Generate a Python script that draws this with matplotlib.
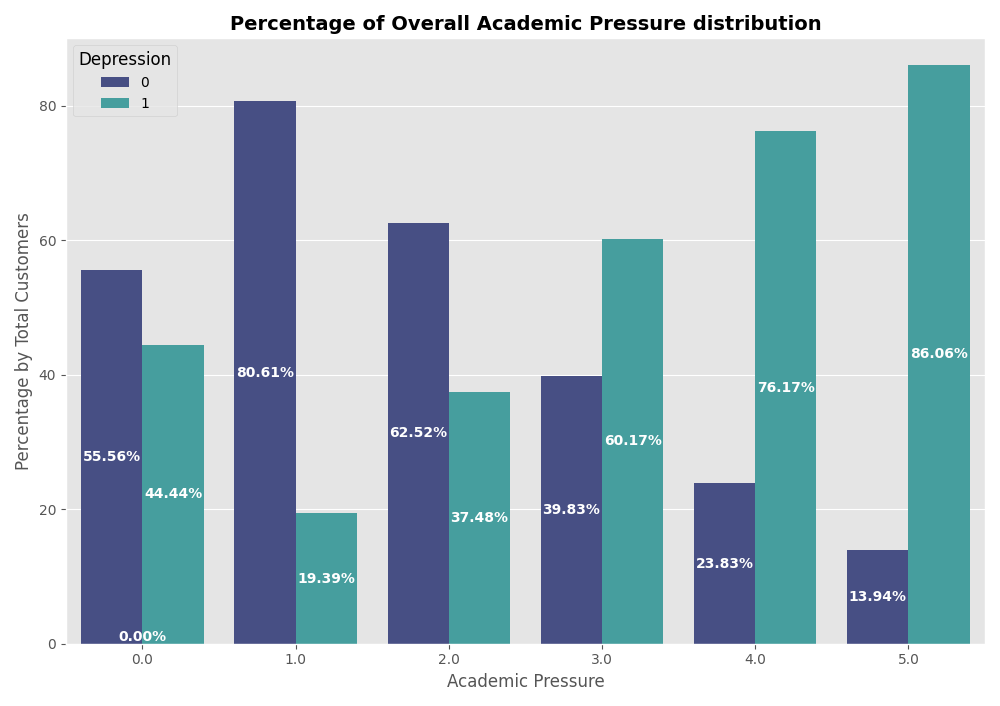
import matplotlib
matplotlib.use("Agg")
import matplotlib.pyplot as plt
import numpy as np

plt.style.use("ggplot")

pressure = ["0.0", "1.0", "2.0", "3.0", "4.0", "5.0"]
dep0 = [55.56, 80.61, 62.52, 39.83, 23.83, 13.94]
dep1 = [44.44, 19.39, 37.48, 60.17, 76.17, 86.06]
colors = ["#474f84", "#469e9e"]

fig, ax = plt.subplots(figsize=(10, 7.06), dpi=100)
x = np.arange(len(pressure))
w = 0.4
b0 = ax.bar(x - w / 2, dep0, w, color=colors[0], label="0")
b1 = ax.bar(x + w / 2, dep1, w, color=colors[1], label="1")

for bars in (b0, b1):
    for r in bars:
        h = r.get_height()
        ax.text(r.get_x() + r.get_width() / 2, h / 2, f"{h:.2f}%",
                ha="center", va="center", color="white", fontweight="bold", fontsize=10)
ax.text(0, 0, "0.00%", ha="center", va="bottom", color="white", fontweight="bold", fontsize=10)

ax.set_xticks(x)
ax.set_xticklabels(pressure)
ax.set_xlim(-0.5, 5.5)
ax.set_ylim(0, 90)
ax.set_yticks([0, 20, 40, 60, 80])
ax.set_xlabel("Academic Pressure", fontsize=12)
ax.set_ylabel("Percentage by Total Customers", fontsize=12)
ax.set_title("Percentage of Overall Academic Pressure distribution", fontsize=14, fontweight="bold")
ax.legend(title="Depression", loc="upper left", title_fontsize=12)
ax.grid(axis="x", visible=False)

plt.tight_layout()
plt.savefig("out.png")
